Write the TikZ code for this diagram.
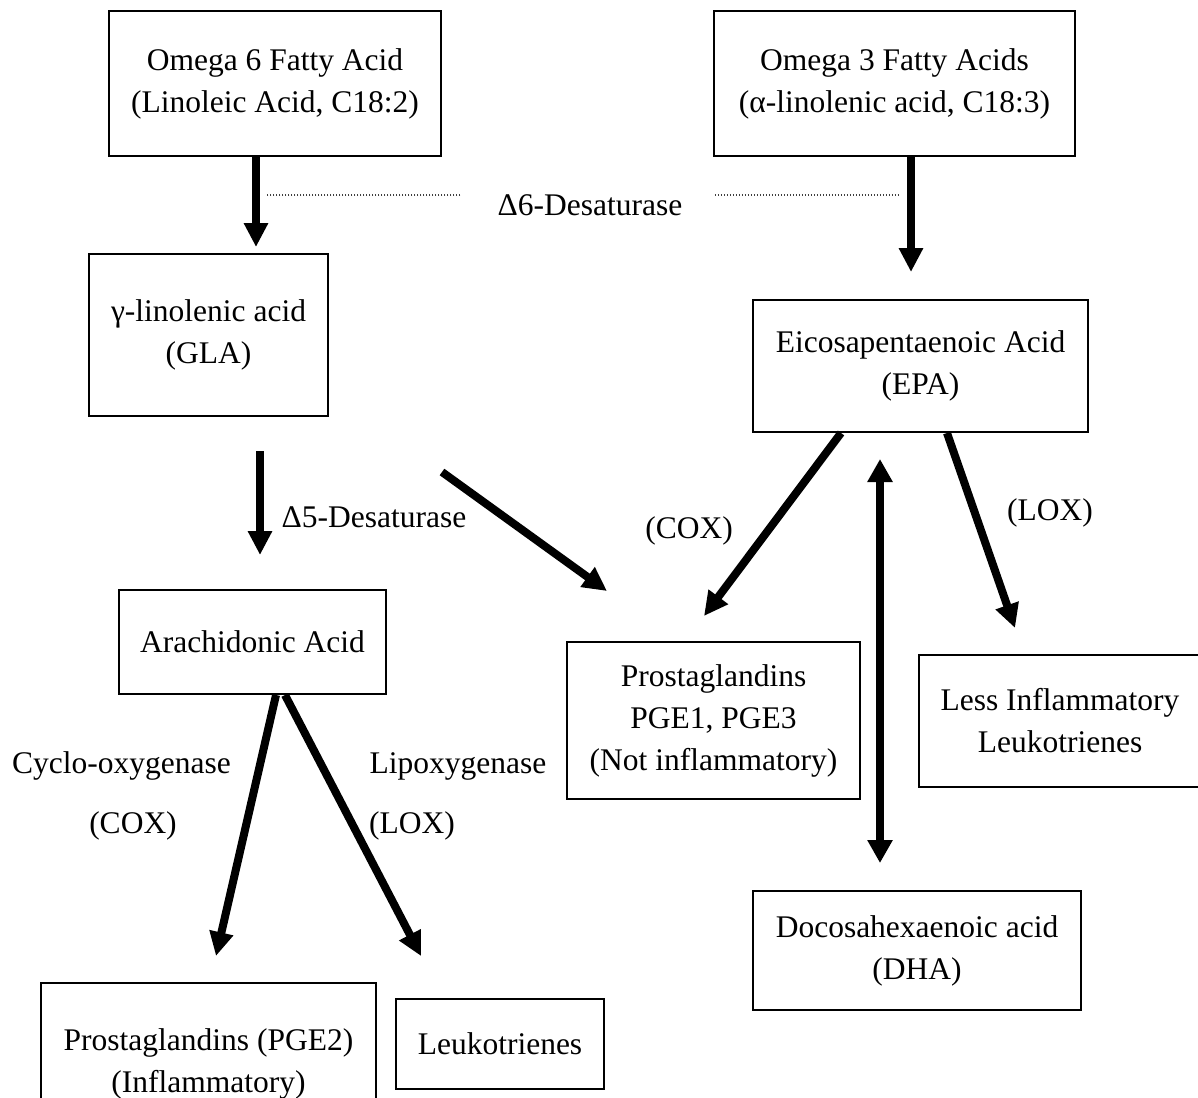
\documentclass[tikz,border=0pt]{standalone}
\usepackage{fontspec}
\setmainfont{Liberation Serif}
\usetikzlibrary{calc,arrows.meta}
\tikzset{
  box/.style={draw=black, line width=1pt, align=center, inner sep=0pt, font=\fontsize{15.75}{21}\selectfont},
  arr/.style={draw=black, line width=4pt, -{Triangle[width=11.5pt,length=12pt]}},
  dblarr/.style={draw=black, line width=4pt, {Triangle[width=12pt,length=11.5pt]}-{Triangle[width=12pt,length=11.5pt]}},
  dotline/.style={draw=black!75, line width=0.7pt, dash pattern=on 0.5pt off 1pt},
  lbl/.style={inner sep=0pt, font=\fontsize{15.75}{21}\selectfont}
}

\begin{document}
\begin{tikzpicture}[x=0.5pt, y=-0.5pt]
  \fill[white] (0,0) rectangle (1198,1097);
  \useasboundingbox (0,0) rectangle (1198,1097);

  \node[box, minimum width=166pt, minimum height=72.5pt] (o6) at (275,83.5) {Omega 6 Fatty Acid\\(Linoleic Acid, C18:2)};
  \node[box, minimum width=180.5pt, minimum height=72.5pt] (o3) at (894.5,83.5) {Omega 3 Fatty Acids\\(α-linolenic acid, C18:3)};
  \node[box, minimum width=119.5pt, minimum height=81pt] (gla) at (208.5,335) {γ-linolenic acid\\(GLA)};
  \node[box, minimum width=167.5pt, minimum height=66pt] (epa) at (920.5,366) {Eicosapentaenoic Acid\\(EPA)};
  \node[box, minimum width=133.5pt, minimum height=52pt] (aa) at (252.5,642) {Arachidonic Acid};
  \node[box, minimum width=146.5pt, minimum height=78.5pt] (pg1) at (713.5,720.5) {Prostaglandins\\PGE1, PGE3\\(Not inflammatory)};
  \node[box, minimum width=141pt, minimum height=66pt] (lil) at (1060,721) {Less Inflammatory\\Leukotrienes};
  \node[box, minimum width=164pt, minimum height=59.5pt] (dha) at (917,950.5) {Docosahexaenoic acid\\(DHA)};
  \node[box, minimum width=167.5pt, minimum height=81pt] (pg2) at (208.5,1064) {Prostaglandins (PGE2)\\(Inflammatory)};
  \node[box, minimum width=104pt, minimum height=45pt] (lk) at (500,1044) {Leukotrienes};

  \node[lbl] (d6) at (590,205) {Δ6-Desaturase};
  \node[lbl] (d5) at (374,517) {Δ5-Desaturase};
  \node[lbl] (coxe) at (689,531) {(COX)};
  \node[lbl] (loxe) at (1050,513) {(LOX)};
  \node[lbl] (cyc) at (121.5,766) {Cyclo-oxygenase};
  \node[lbl] (coxa) at (133,826) {(COX)};
  \node[lbl] (lip) at (458,766) {Lipoxygenase};
  \node[lbl] (loxa) at (412,826) {(LOX)};

  \coordinate (c6l) at (256,0);
  \coordinate (c6r) at (911,0);
  \coordinate (c5) at (260,0);
  \coordinate (cdd) at (880,0);
  \coordinate (gdiag) at (442,472);
  \coordinate (pgin) at (607,591);
  \coordinate (coxin) at (704,616);
  \coordinate (loxin) at (1015,628);
  \coordinate (pg2in) at (216,956);
  \coordinate (lkin) at (421,956);

  \draw[arr, shorten >=3pt] (o6.south -| c6l) -- (gla.north -| c6l);
  \draw[arr, shorten >=13.5pt] (o3.south -| c6r) -- (epa.north -| c6r);
  \draw[dotline, shorten <=18.5pt, shorten >=5pt] ([yshift=5pt]d6.west) -- ([yshift=5pt]d6.west -| c6l);
  \draw[dotline, shorten <=16pt, shorten >=5.5pt] ([yshift=5pt]d6.east) -- ([yshift=5pt]d6.east -| c6r);
  \draw[arr, shorten <=17pt, shorten >=17pt] (gla.south -| c5) -- (aa.north -| c5);
  \draw[arr] (gdiag) -- (pgin);
  \draw[arr] ($(epa.south)+(-79.5,0)$) -- (coxin);
  \draw[arr] ($(epa.south)+(26.5,0)$) -- (loxin);
  \draw[dblarr, shorten <=13pt, shorten >=13.5pt] (epa.south -| cdd) -- (dha.north -| cdd);
  \draw[arr] ($(aa.south)+(23.5,0)$) -- (pg2in);
  \draw[arr] ($(aa.south)+(32.5,0)$) -- (lkin);
\end{tikzpicture}
\end{document}
